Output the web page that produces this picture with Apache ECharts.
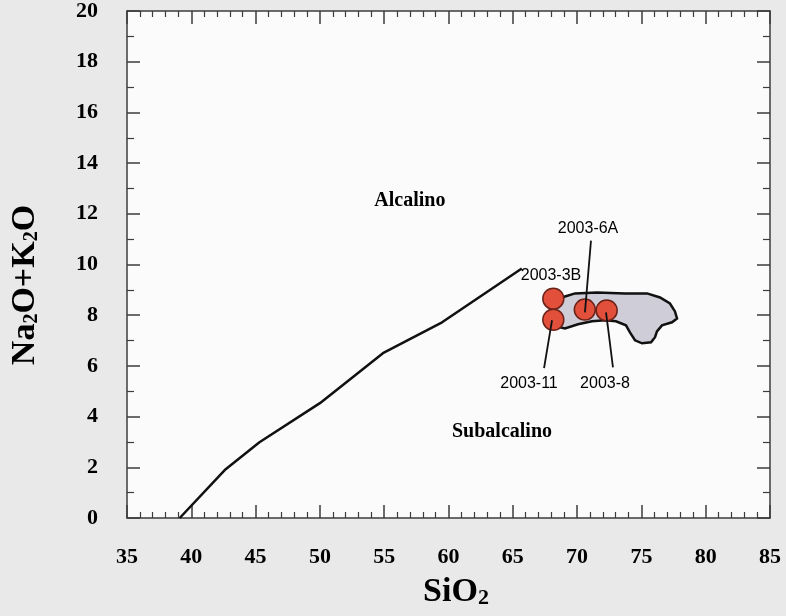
<!DOCTYPE html>
<html>
<head>
<meta charset="utf-8">
<script src="https://cdn.jsdelivr.net/npm/echarts@6/dist/echarts.min.js"></script>
<style>
html,body{margin:0;padding:0;background:#e9e9e9;overflow:hidden;}
#chart{width:786px;height:616px;}
</style>
</head>
<body>
<div id="chart"></div>
<script>
// ---- data ----
const xMin = 35, xMax = 85, xStep = 5;
const yMin = 0, yMax = 20, yStep = 2;

// Alkaline / subalkaline dividing line (SiO2, Na2O+K2O)
const boundaryLine = [[39.1,0],[42.6,1.89],[45.3,2.99],[50.0,4.53],[54.9,6.50],[59.5,7.72],[65.7,9.84]];

// grey compositional field outline
const fieldOutline = [
  [68.36,8.58],[69.06,8.74],[69.84,8.86],[71.55,8.90],[73.72,8.86],[75.44,8.86],
  [76.45,8.70],[77.22,8.46],[77.61,8.15],[77.77,7.87],[77.38,7.72],[76.60,7.60],
  [76.21,7.36],[76.06,7.13],[75.75,6.93],[75.05,6.89],[74.50,7.01],[74.11,7.32],
  [73.80,7.60],[73.02,7.76],[72.17,7.80],[71.16,7.76],[70.07,7.64],[69.06,7.48],
  [68.36,7.56],[67.89,7.87],[67.89,8.39]
];

// samples
const sampleNames = ['2003-3B','2003-11','2003-6A','2003-8'];
const sampleSiO2  = [68.15, 68.15, 70.6, 72.3];
const sampleAlk   = [8.65, 7.82, 8.22, 8.19];
// label anchor (data coords) and leader line ends (data coords)
const labelAnchor = [[67.97,9.57],[66.26,5.31],[70.85,11.42],[72.17,5.31]];
const leaderStart = [null,[67.43,5.91],[71.08,10.94],[72.79,5.94]];
const leaderEnd   = [null,[68.05,7.80],[70.61,8.11],[72.25,8.11]];

// field names
const regionNames = ['Alcalino','Subalcalino'];
const regionAnchor = [[57.0,12.52],[64.16,3.39]];

// axis titles
const xTitle = ['SiO', '2'];
const yTitle = ['Na', '2', 'O+K', '2', 'O'];

// ---- chart ----
const chart = echarts.init(document.getElementById('chart'), null, {renderer:'canvas', width:786, height:616});

const axisColor = '#3c3c3c';
const serif = '"Liberation Serif","Times New Roman",serif';
const sans = '"Liberation Sans",Arial,sans-serif';

function xAxisDef(pos, labels){
  return {
    type:'value', position:pos, min:xMin, max:xMax, interval:xStep,
    axisLine:{show:true, onZero:false, lineStyle:{color:axisColor, width:1.5}},
    axisTick:{show:true, inside:true, length:13, lineStyle:{color:axisColor, width:1.5}},
    minorTick:{show:true, splitNumber:5, length:6, lineStyle:{color:axisColor, width:1.2}},
    splitLine:{show:false},
    axisLabel:{show:labels, margin:28, color:'#000', fontFamily:serif, fontWeight:'bold', fontSize:22},
  };
}
function yAxisDef(pos, labels){
  return {
    type:'value', position:pos, min:yMin, max:yMax, interval:yStep,
    axisLine:{show:true, onZero:false, lineStyle:{color:axisColor, width:1.5}},
    axisTick:{show:true, inside:true, length:13, lineStyle:{color:axisColor, width:1.5}},
    minorTick:{show:true, splitNumber:2, length:7, lineStyle:{color:axisColor, width:1.2}},
    splitLine:{show:false},
    axisLabel:{show:labels, margin:29, color:'#000', fontFamily:serif, fontWeight:'bold', fontSize:22},
  };
}

const samplePoints = sampleNames.map((n,i)=>({name:n, value:[sampleSiO2[i], sampleAlk[i]]}));
const sampleLabels = sampleNames.map((n,i)=>({name:n, value:labelAnchor[i]}));
const leaders = [];
leaderStart.forEach((s,i)=>{ if(s) leaders.push({coords:[s, leaderEnd[i]]}); });
const regionData = regionNames.map((n,i)=>({name:n, value:regionAnchor[i]}));

const richTitle = (big, small) => ({
  m:{fontFamily:serif, fontWeight:'bold', fontSize:big, fill:'#000', color:'#000', lineHeight:big, verticalAlign:'bottom'},
  s:{fontFamily:serif, fontWeight:'bold', fontSize:small, fill:'#000', color:'#000', lineHeight:Math.round(small*0.8), verticalAlign:'bottom'}
});
const toRich = parts => parts.map((p,i)=> (i%2===0 ? '{m|' : '{s|') + p + '}').join('');

chart.setOption({
  animation:false,
  backgroundColor:'#e9e9e9',
  grid:{left:127, width:643, top:10, height:508, show:true, backgroundColor:'#fbfbfb', borderWidth:0},
  xAxis:[xAxisDef('bottom', true), xAxisDef('top', false)],
  yAxis:[yAxisDef('left', true), yAxisDef('right', false)],
  graphic:[
    {type:'text', x:456, y:592, style:{text:toRich(xTitle), rich:richTitle(34,22), align:'center', verticalAlign:'middle'}},
    {type:'text', x:25, y:285, rotation:Math.PI/2, style:{text:toRich(yTitle), rich:richTitle(34,20), align:'center', verticalAlign:'middle'}}
  ],
  series:[
    {
      type:'custom', z:1, xAxisIndex:0, yAxisIndex:0,
      data:[0],
      renderItem:function(params, api){
        const pts = fieldOutline.map(p=>api.coord(p));
        return {type:'polygon', shape:{points:pts},
          style:{fill:'#cfcdd7', stroke:'#111', lineWidth:2.5}};
      },
      silent:true
    },
    {
      type:'line', z:2, data:boundaryLine, showSymbol:false, symbol:'none',
      lineStyle:{color:'#111', width:2.5}, silent:true
    },
    {
      type:'scatter', z:3, data:samplePoints, symbolSize:21,
      itemStyle:{color:'#e2503c', borderColor:'#6a2218', borderWidth:1.5, opacity:1}
    },
    {
      type:'lines', z:4, coordinateSystem:'cartesian2d', data:leaders,
      lineStyle:{color:'#111', width:1.8, opacity:1}, silent:true
    },
    {
      type:'scatter', z:5, data:sampleLabels, symbol:'circle', symbolSize:1,
      itemStyle:{color:'#000', opacity:0},
      labelLayout:{hideOverlap:false},
      label:{show:true, position:'inside', formatter:'{b}', color:'#000', opacity:1, fontFamily:sans, fontSize:16}
    },
    {
      type:'scatter', z:5, data:regionData, symbol:'circle', symbolSize:1,
      itemStyle:{color:'#000', opacity:0},
      labelLayout:{hideOverlap:false},
      label:{show:true, position:'inside', formatter:'{b}', color:'#000', opacity:1, fontFamily:serif, fontWeight:'bold', fontSize:20}
    }
  ]
});
</script>
</body>
</html>
